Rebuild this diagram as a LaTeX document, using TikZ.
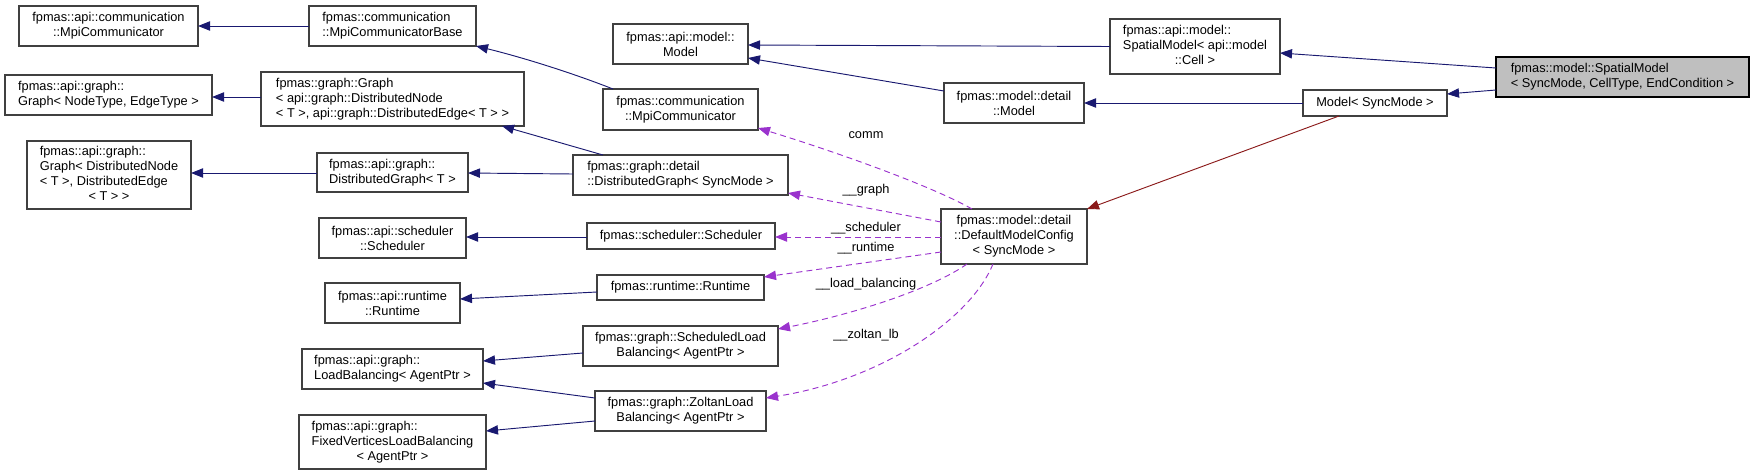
\documentclass[tikz,border=0pt]{standalone}
\usepackage{fontspec}
\setmainfont{Liberation Sans}
\usetikzlibrary{arrows.meta,calc}
\definecolor{edgeblue}{HTML}{191970}
\definecolor{edgepurple}{HTML}{9A32CD}
\definecolor{edgered}{HTML}{8B1A1A}
\definecolor{boxborder}{HTML}{404040}
\definecolor{rootfill}{HTML}{BFBFBF}
\tikzset{
  box/.style={draw=boxborder, line width=0.8pt, fill=white, inner sep=0pt, outer sep=0pt,
    font=\fontsize{9.6}{11.25}\selectfont, align=center},
  lbox/.style={box, align=left},
  rootbox/.style={box, align=left, fill=rootfill, draw=black},
  inh/.style={draw=edgeblue, line width=0.7pt, -{Triangle[length=9pt,width=7pt]}},
  usage/.style={draw=edgepurple, line width=0.7pt, dash pattern=on 4.5pt off 3pt, -{Triangle[length=9pt,width=7pt]}},
  tmpl/.style={draw=edgered, line width=0.7pt, -{Triangle[length=9pt,width=7pt]}},
  elabel/.style={font=\fontsize{9.6}{11.25}\selectfont, inner sep=0pt},
}
\begin{document}
\begin{tikzpicture}[x=0.75pt,y=-0.75pt]
\useasboundingbox (0,0) rectangle (1755,475);

% left column
\node[box, minimum width=134.25pt, minimum height=30pt] (apiMpiComm) at (108.5,26) {fpmas::api::communication\\::MpiCommunicator};
\node[lbox, minimum width=155.25pt, minimum height=30pt] (apiGraphNE) at (108.5,95) {fpmas::api::graph::\\Graph< NodeType, EdgeType >};
\node[box, minimum width=123pt, minimum height=51pt] (apiGraphDN) at (109,175) {\begin{tabular}{@{}l@{}}fpmas::api::graph::\\Graph< DistributedNode\\< T >, DistributedEdge\\\multicolumn{1}{@{}c@{}}{< T > >}\end{tabular}};

% second column
\node[lbox, minimum width=125.25pt, minimum height=30pt] (MpiCommBase) at (392.5,26) {fpmas::communication\\::MpiCommunicatorBase};
\node[lbox, minimum width=197.25pt, minimum height=40.5pt] (graphGraph) at (392.5,99) {fpmas::graph::Graph\\< api::graph::DistributedNode\\< T >, api::graph::DistributedEdge< T > >};
\node[lbox, minimum width=113.25pt, minimum height=29.25pt] (apiDistGraph) at (392.5,172.5) {fpmas::api::graph::\\DistributedGraph< T >};
\node[box, minimum width=110.25pt, minimum height=30pt] (apiScheduler) at (392.5,238) {fpmas::api::scheduler\\::Scheduler};
\node[box, minimum width=101.25pt, minimum height=30pt] (apiRuntime) at (392.5,303) {fpmas::api::runtime\\::Runtime};
\node[lbox, minimum width=135.75pt, minimum height=30pt] (apiLB) at (392.5,369) {fpmas::api::graph::\\LoadBalancing< AgentPtr >};
\node[box, minimum width=140.25pt, minimum height=40.5pt] (FixedVLB) at (392.5,442) {\begin{tabular}{@{}l@{}}fpmas::api::graph::\\FixedVerticesLoadBalancing\\\multicolumn{1}{@{}c@{}}{< AgentPtr >}\end{tabular}};

% third column
\node[box, minimum width=101.25pt, minimum height=30pt] (apiModel) at (680.5,44) {fpmas::api::model::\\Model};
\node[box, minimum width=116.25pt, minimum height=30.75pt] (commMpiComm) at (680.5,109.5) {fpmas::communication\\::MpiCommunicator};
\node[lbox, minimum width=161.25pt, minimum height=30pt] (detailDistGraph) at (680.5,175) {fpmas::graph::detail\\::DistributedGraph< SyncMode >};
\node[box, minimum width=141pt, minimum height=19.5pt] (graphScheduler) at (681,236) {fpmas::scheduler::Scheduler};
\node[box, minimum width=125.25pt, minimum height=18.75pt] (graphRuntime) at (680.5,287.5) {fpmas::runtime::Runtime};
\node[box, minimum width=146.25pt, minimum height=30pt] (ScheduledLB) at (680.5,346) {fpmas::graph::ScheduledLoad\\Balancing< AgentPtr >};
\node[box, minimum width=128.25pt, minimum height=30pt] (ZoltanLB) at (680.5,411) {fpmas::graph::ZoltanLoad\\Balancing< AgentPtr >};

% fourth column
\node[box, minimum width=105pt, minimum height=30pt] (detailModel) at (1014,103) {fpmas::model::detail\\::Model};
\node[box, minimum width=109.5pt, minimum height=41.25pt] (DMC) at (1014,236.5) {fpmas::model::detail\\::DefaultModelConfig\\< SyncMode >};

% right
\node[box, minimum width=127.5pt, minimum height=41.25pt] (apiSpatialModel) at (1195,46.5) {\begin{tabular}{@{}l@{}}fpmas::api::model::\\SpatialModel< api::model\\\multicolumn{1}{@{}c@{}}{::Cell >}\end{tabular}};
\node[box, minimum width=108pt, minimum height=19.5pt] (ModelSync) at (1375,103) {Model< SyncMode >};
\node[rootbox, minimum width=189.75pt, minimum height=30pt] (SpatialModel) at (1622.5,77) {fpmas::model::SpatialModel\\< SyncMode, CellType, EndCondition >};

% inheritance edges
\draw[inh] (MpiCommBase.west) -- (apiMpiComm.east);
\draw[inh] ($(graphGraph.west)+(0,-2)$) -- ($(apiGraphNE.east)+(0,2)$);
\draw[inh] ($(apiDistGraph.west)+(0,0.5)$) -- ($(apiGraphDN.east)+(0,-2)$);
\draw[inh] ($(commMpiComm.north west)+(10,0)$) .. controls (575,74) and (525,58) .. (MpiCommBase.south east);
\draw[inh] ($(detailDistGraph.north west)+(30,0)$) -- ($(graphGraph.south east)+(-22,0)$);
\draw[inh] ($(detailDistGraph.west)+(0,-1)$) -- ($(apiDistGraph.east)+(0,0.5)$);
\draw[inh] ($(graphScheduler.west)+(0,1)$) -- ($(apiScheduler.east)+(0,-1)$);
\draw[inh] ($(graphRuntime.west)+(0,4.5)$) -- ($(apiRuntime.east)+(0,-4)$);
\draw[inh] ($(ScheduledLB.west)+(0,7)$) -- ($(apiLB.east)+(0,-8)$);
\draw[inh] ($(ZoltanLB.west)+(0,-13)$) -- ($(apiLB.east)+(0,14)$);
\draw[inh] ($(ZoltanLB.west)+(0,10)$) -- ($(FixedVLB.east)+(0,-11)$);
\draw[inh] (apiSpatialModel.west) -- ($(apiModel.east)+(0,1)$);
\draw[inh] ($(detailModel.west)+(0,-12)$) -- ($(apiModel.east)+(0,14)$);
\draw[inh] (ModelSync.west) -- (detailModel.east);
\draw[inh] ($(SpatialModel.west)+(0,-9)$) -- ($(apiSpatialModel.east)+(0,6.5)$);
\draw[inh] ($(SpatialModel.west)+(0,13)$) -- ($(ModelSync.east)+(0,-9)$);
\draw[tmpl] ($(ModelSync.south)+(-36,0)$) -- (DMC.north east);

% usage edges
\draw[usage] ($(DMC.north)+(-42,0)$) .. controls (930,185) and (830,150) .. ($(commMpiComm.south east)+(0,-2)$);
\draw[usage] ($(DMC.west)+(0,-14.5)$) -- ($(detailDistGraph.south east)+(0,-2)$);
\draw[usage] ($(DMC.west)+(0,0.5)$) -- ($(graphScheduler.east)+(0,1)$);
\draw[usage] ($(DMC.west)+(0,15.5)$) -- ($(graphRuntime.east)+(0,-10.5)$);
\draw[usage] ($(DMC.south)+(-47,0)$) .. controls (930,290) and (850,315) .. ($(ScheduledLB.east)+(0,-17)$);
\draw[usage] ($(DMC.south)+(-21,0)$) .. controls (970,320) and (880,380) .. ($(ZoltanLB.east)+(0,-13)$);

% edge labels
\node[elabel] (lcomm) at (866,135) {comm};
\node[elabel] (lgraph) at (866,190) {\_\_graph};
\node[elabel] (lsched) at (866,228) {\_\_scheduler};
\node[elabel] (lrun) at (866,248) {\_\_runtime};
\node[elabel] (llb) at (866,284) {\_\_load\_balancing};
\node[elabel] (lzlb) at (866,335) {\_\_zoltan\_lb};
\end{tikzpicture}
\end{document}
